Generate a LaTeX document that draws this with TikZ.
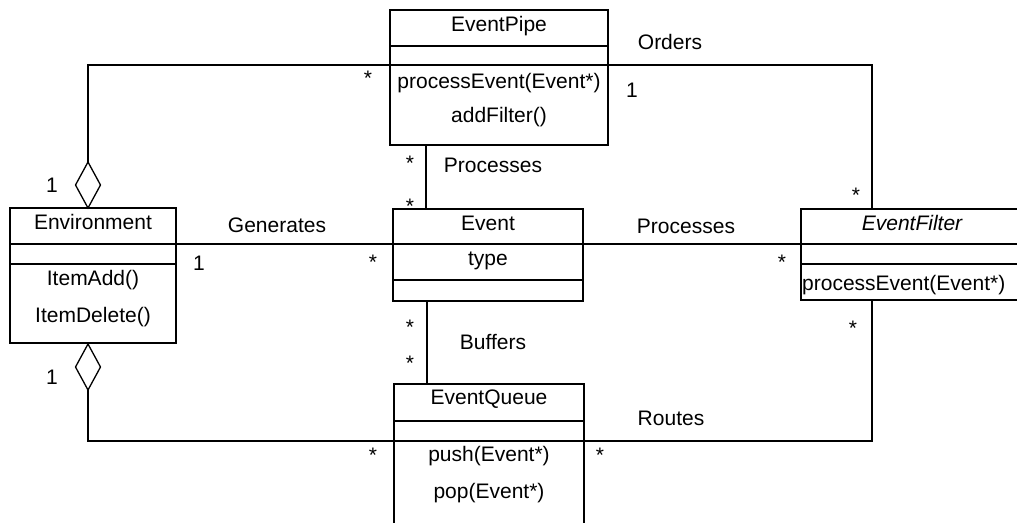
\documentclass[tikz,border=0pt]{standalone}
\usepackage{fontspec}
\setmainfont{Liberation Sans}
\usetikzlibrary{shapes.geometric}
\begin{document}
\begin{tikzpicture}[x=1pt,y=-1pt,
  box/.style={draw, line width=2pt, inner sep=0pt, outer sep=0pt},
  div/.style={line width=2pt},
  conn/.style={line width=1.3pt},
  txt/.style={inner sep=0pt, anchor=base, font=\fontsize{21}{25}\selectfont},
  ltxt/.style={txt, anchor=base west},
  agg/.style={diamond, draw, line width=1.3pt, fill=white, minimum width=25pt, minimum height=46pt, inner sep=0pt, outer sep=0pt}]
\clip (0,0) rectangle (1017,522);
\fill[white] (0,0) rectangle (1017,522);

% class boxes
\node[box, minimum width=218pt, minimum height=135pt] (pipe) at (499,77.5) {};
\node[box, minimum width=166pt, minimum height=135pt] (env) at (93,275.5) {};
\node[box, minimum width=190pt, minimum height=92pt] (event) at (488,255) {};
\node[box, minimum width=239pt, minimum height=91pt] (filter) at (920.5,254.5) {};
\node[box, minimum width=190pt, minimum height=156pt] (queue) at (489,462) {};

% dividers
\coordinate (r46) at (0,46);
\coordinate (r65) at (0,65);
\coordinate (r244) at (0,244);
\coordinate (r264) at (0,264);
\coordinate (r280) at (0,280);
\coordinate (r421) at (0,421);
\coordinate (r441) at (0,441);
\draw[div] (pipe.west |- r46) -- (pipe.east |- r46);
\draw[div] (pipe.west |- r65) -- (pipe.east |- r65);
\draw[div] (env.west |- r244) -- (env.east |- r244);
\draw[div] (env.west |- r264) -- (env.east |- r264);
\draw[div] (event.west |- r244) -- (event.east |- r244);
\draw[div] (event.west |- r280) -- (event.east |- r280);
\draw[div] (filter.west |- r244) -- (filter.east |- r244);
\draw[div] (filter.west |- r264) -- (filter.east |- r264);
\draw[div] (queue.west |- r421) -- (queue.east |- r421);
\draw[div] (queue.west |- r441) -- (queue.east |- r441);

% class texts
\node[txt] (tpipe) at (499,31) {EventPipe};
\node[txt] (tpipe1) at (499,88) {processEvent(Event*)};
\node[txt] (tpipe2) at (499,122) {addFilter()};
\node[txt] (tenv) at (93,229) {Environment};
\node[txt] (tenv1) at (93,285) {ItemAdd()};
\node[txt] (tenv2) at (93,322) {ItemDelete()};
\node[txt] (tevent) at (488,230) {Event};
\node[txt] (tevent1) at (488,265) {type};
\node[txt] (tfilter) at (912,230) {\itshape EventFilter};
\node[ltxt] (tfilter1) at (802,290) {processEvent(Event*)};
\node[txt] (tqueue) at (489,404) {EventQueue};
\node[txt] (tqueue1) at (489,461) {push(Event*)};
\node[txt] (tqueue2) at (489,498) {pop(Event*)};

% aggregation diamonds
\node[agg] (dtop) at (88,185) {};
\node[agg] (dbot) at (88,367) {};

% connectors
\coordinate (a1) at (88,65);
\coordinate (a2) at (872,65);
\coordinate (p1) at (426,0);
\coordinate (q1) at (427,0);
\coordinate (b1) at (88,441);
\coordinate (b2) at (872,441);
\draw[conn] (pipe.west |- a1) -- (a1) -- (dtop.north);
\draw[conn] (pipe.east |- a2) -- (a2) -- (a2 |- filter.north);
\draw[conn] (p1 |- pipe.south) -- (p1 |- event.north);
\draw[conn] (env.east |- r244) -- (event.west |- r244);
\draw[conn] (event.east |- r244) -- (filter.west |- r244);
\draw[conn] (q1 |- event.south) -- (q1 |- queue.north);
\draw[conn] (dbot.south) -- (b1) -- (queue.west |- b1);
\draw[conn] (queue.east |- b2) -- (b2) -- (b2 |- filter.south);

% association labels
\node[txt] (lorders) at (670,49.5) {Orders};
\node[txt] (m1) at (632,97.5) {1};
\node[txt] (m2) at (368,85) {*};
\node[txt] (m3) at (52,192.5) {1};
\node[txt] (m4) at (52,384.5) {1};
\node[txt] (m5) at (410,170) {*};
\node[txt] (lproc1) at (493,172.5) {Processes};
\node[txt] (m6) at (410,213) {*};
\node[txt] (lgen) at (277,232.5) {Generates};
\node[txt] (m7) at (199,270.5) {1};
\node[txt] (m8) at (373,269) {*};
\node[txt] (lproc2) at (686,233.5) {Processes};
\node[txt] (m9) at (782,269) {*};
\node[txt] (m10) at (856,202) {*};
\node[txt] (m11) at (853,335) {*};
\node[txt] (lbuf) at (493,349.5) {Buffers};
\node[txt] (m12) at (410,334) {*};
\node[txt] (m13) at (410,370) {*};
\node[txt] (lroutes) at (671,425.5) {Routes};
\node[txt] (m14) at (600,462) {*};
\node[txt] (m15) at (373,462) {*};
\end{tikzpicture}
\end{document}
